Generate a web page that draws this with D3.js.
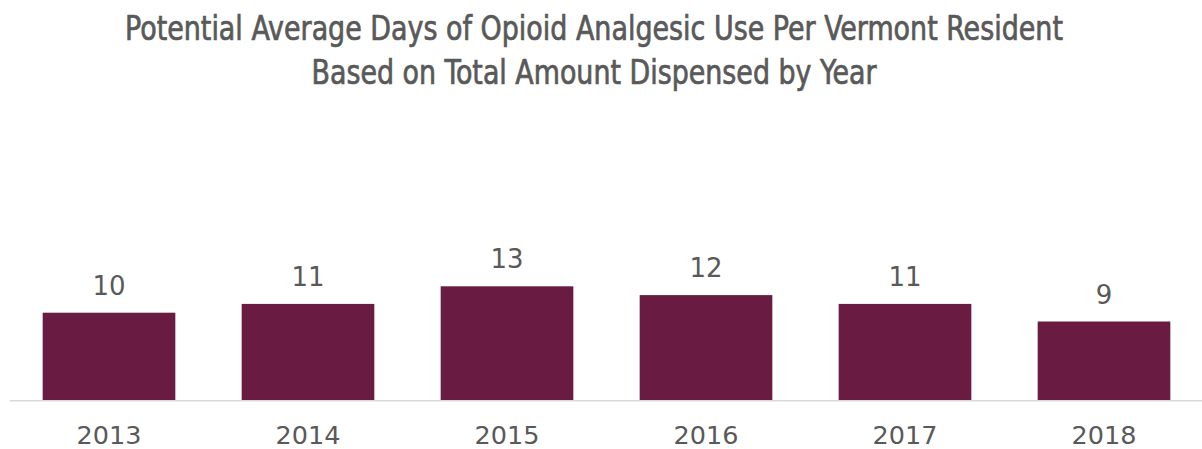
<!DOCTYPE html>
<html>
<head>
<meta charset="utf-8">
<script src="https://cdn.jsdelivr.net/npm/d3@7/dist/d3.min.js"></script>
<style>
  html, body { margin: 0; padding: 0; background: #fff; }
  svg { display: block; }
</style>
</head>
<body>
<svg id="chart" width="1202" height="449"></svg>
<script>
// Potential average days of opioid analgesic use per Vermont resident
const years = ["2013", "2014", "2015", "2016", "2017", "2018"];
const days = [10, 11, 13, 12, 11, 9];
const titleLines = [
  "Potential Average Days of Opioid Analgesic Use Per Vermont Resident",
  "Based on Total Amount Dispensed by Year"
];

const width = 1202, height = 449;
const svg = d3.select("#chart");

const textColor = "#595959";
const barColor = "#6a1b41";

const x = d3.scaleBand()
  .domain(years)
  .range([9.5, 1203.5])
  .paddingInner(1 / 3)
  .paddingOuter(1 / 6);

const y = d3.scaleLinear()
  .domain([0, 40])
  .range([400.7, 48.7]);

// Title, two centred lines in a condensed face
const titleFont = "'Liberation Sans Narrow', 'DejaVu Sans Condensed', 'Arial Narrow', sans-serif";
const titleSpecs = [
  { y: 40, len: 938 },
  { y: 84, len: 565 }
];
svg.append("g")
  .selectAll("text")
  .data(titleLines)
  .join("text")
  .attr("x", 594)
  .attr("y", (d, i) => titleSpecs[i].y)
  .attr("text-anchor", "middle")
  .attr("font-family", titleFont)
  .attr("font-stretch", "condensed")
  .attr("font-size", 34)
  .attr("fill", textColor)
  .attr("stroke", textColor)
  .attr("stroke-width", 0.7)
  .attr("textLength", (d, i) => titleSpecs[i].len)
  .attr("lengthAdjust", "spacingAndGlyphs")
  .text(d => d);

// Bars
svg.append("g")
  .selectAll("rect")
  .data(years)
  .join("rect")
  .attr("x", d => x(d))
  .attr("width", x.bandwidth())
  .attr("y", (d, i) => y(days[i]))
  .attr("height", (d, i) => y(0) - y(days[i]))
  .attr("fill", barColor);

// Baseline axis with year labels
const axis = d3.axisBottom(x).tickSize(0).tickPadding(0);
const axisG = svg.append("g")
  .attr("transform", `translate(0,${y(0)})`)
  .call(axis);
axisG.select(".domain")
  .attr("stroke", "#d9d9d9")
  .attr("stroke-width", 1.5)
  .attr("d", "M9.5,0H1202");
axisG.selectAll(".tick text")
  .attr("y", 43.8)
  .attr("dy", null)
  .attr("font-family", "'DejaVu Sans', sans-serif")
  .attr("font-size", 25.5)
  .attr("fill", textColor);

// Value labels above each bar
svg.append("g")
  .selectAll("text")
  .data(years)
  .join("text")
  .attr("x", d => x(d) + x.bandwidth() / 2)
  .attr("y", (d, i) => y(days[i]) - 18)
  .attr("text-anchor", "middle")
  .attr("font-family", "'DejaVu Sans', sans-serif")
  .attr("font-size", 26)
  .attr("fill", textColor)
  .text((d, i) => days[i]);
</script>
</body>
</html>
